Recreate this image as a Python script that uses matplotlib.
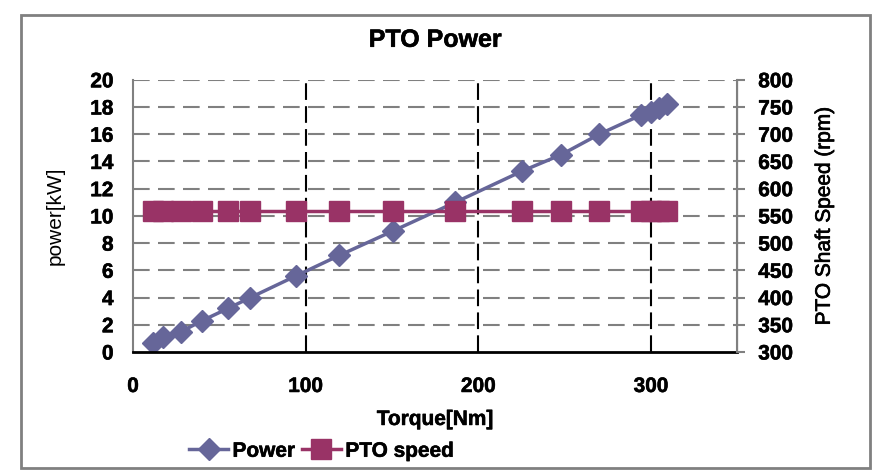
import matplotlib.pyplot as plt
import numpy as np
from matplotlib.patches import Rectangle
import matplotlib.patheffects as pe

# =====================
# Data
# =====================
torque = np.array([11.6, 17.4, 28, 40, 55, 68, 94.5, 119.5, 150.7, 186.7,
                   225.5, 248, 270, 294, 300, 304.5, 309])
power = np.array([0.66, 1.1, 1.5, 2.3, 3.2, 4.0, 5.6, 7.1, 8.9, 11.0,
                  13.3, 14.5, 16.0, 17.4, 17.6, 17.9, 18.2])
pto_speed = np.array([559] * 17)

plt.rcParams.update({
    'font.family': ['Liberation Sans', 'DejaVu Sans'],
    'font.size': 15,
})
heavy = [pe.withStroke(linewidth=0.4, foreground='black')]

fig = plt.figure(figsize=(8.81, 4.75), dpi=100)
ax = fig.add_axes([0.151, 0.259, 0.686, 0.573])
ax2 = ax.twinx()

p1, = ax.plot(torque, power, '-', marker='D', color='#666699', linewidth=2.5,
              markersize=11, label='Power')
p2, = ax2.plot(torque, pto_speed, '-', marker='s', color='#993366', linewidth=2.5,
               markersize=14, label='PTO speed')

ax.set_xlim(0, 350)
ax.set_ylim(0, 20)
ax.set_yticks(np.arange(0, 21, 2))
ax.set_xticks([0, 100, 200, 300])
ax2.set_ylim(300, 800)
ax2.set_yticks(np.arange(300, 801, 50))

# grid
for y in np.arange(2, 21, 2):
    ax.axhline(y, color='#808080', linewidth=1.5, linestyle=(0, (8, 4)), zorder=0)
for x in [100, 200, 300]:
    ax.axvline(x, color='black', linewidth=1.5, linestyle=(0, (8, 3)), zorder=0)

for a in (ax, ax2):
    a.spines['top'].set_visible(False)
ax.spines['left'].set_color('#808080')
ax.spines['left'].set_linewidth(1.5)
ax.spines['bottom'].set_color('black')
ax.spines['bottom'].set_linewidth(2)
ax2.spines['right'].set_color('#808080')
ax2.spines['right'].set_linewidth(1.5)
ax2.spines['left'].set_visible(False)
ax2.spines['bottom'].set_visible(False)
ax.tick_params(axis='y', length=0, pad=14)
ax.tick_params(axis='x', length=0, pad=18)
ax2.tick_params(axis='y', length=6, color='#808080', width=1.5, pad=9)
for lab in ax.get_xticklabels() + ax.get_yticklabels() + ax2.get_yticklabels():
    lab.set_fontweight('bold')
    lab.set_path_effects(heavy)

ax.set_xlabel('Torque[Nm]', fontweight='bold', path_effects=heavy)
ax.xaxis.set_label_coords(0.5, -0.213)
ax.set_ylabel('power[kW]')
ax.yaxis.set_label_coords(-0.113, 0.5)
ax2.set_ylabel('PTO Shaft Speed (rpm)',
               path_effects=[pe.withStroke(linewidth=0.5, foreground='black')])
ax2.yaxis.set_label_coords(1.128, 0.5)
ax.set_title('PTO Power', fontweight='bold', path_effects=heavy, y=1.147,
             va='center', pad=0)

leg = fig.legend(handles=[p1, p2], loc='center', bbox_to_anchor=(0.365, 0.05), ncol=2,
                 frameon=False, prop={'size': 15, 'weight': 'bold'}, handlelength=1.9,
                 handletextpad=0.2, columnspacing=0.3)
for t in leg.get_texts():
    t.set_path_effects(heavy)

fig.patches.append(Rectangle((0.024, 0.015), 0.964, 0.954, transform=fig.transFigure,
                             fill=False, edgecolor='#808080', linewidth=2))

fig.savefig('out.png', dpi=100)
